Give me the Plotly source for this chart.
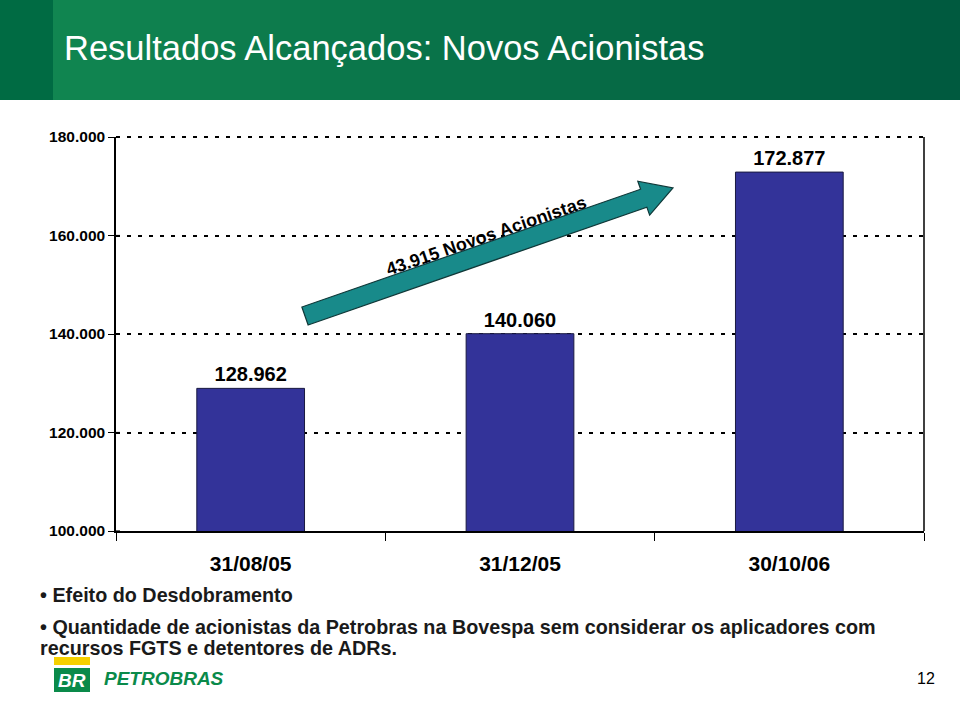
import numpy as np
import plotly.graph_objects as go

# ---- data ----
categories = ["31/08/05", "31/12/05", "30/10/06"]
acionistas = [128962, 140060, 172877]
y_ticks = [100000, 120000, 140000, 160000, 180000]
titulo = "Resultados Alcançados: Novos Acionistas"
seta_texto = "43.915 Novos Acionistas"
notas = ["• Efeito do Desdobramento",
         "• Quantidade de acionistas da Petrobras na Bovespa sem considerar os aplicadores com",
         "recursos FGTS e detentores de ADRs."]

W, H = 960, 706
L, R, T, B = 116, 36, 137, 175
PW, PH = W - L - R, H - T - B


def px(x):
    return (x - L) / PW


def py(y):
    return (H - B - y) / PH


FONT = "Arial, Liberation Sans, sans-serif"

fig = go.Figure()
fig.add_trace(go.Bar(
    x=categories, y=acionistas, width=0.4,
    marker=dict(color="#333399", line=dict(color="#1a1a40", width=1)),
    texttemplate="<b>%{y:,.0f}</b>", textposition="outside",
    textfont=dict(size=20, color="black", family=FONT),
    cliponaxis=False, hoverinfo="skip"))

shapes = []
# banner gradient
c0 = np.array([0x12, 0x88, 0x52])
c1 = np.array([0x00, 0x5a, 0x3f])
n = 48
for i in range(n):
    x0 = i * W / n
    x1 = (i + 1) * W / n + 1
    c = c0 + (c1 - c0) * (i / (n - 1))
    shapes.append(dict(type="rect", xref="paper", yref="paper",
                       x0=px(x0), x1=px(x1), y0=py(100), y1=py(0),
                       fillcolor="rgb(%d,%d,%d)" % tuple(c), line=dict(width=0), layer="below"))
shapes.append(dict(type="rect", xref="paper", yref="paper",
                   x0=px(0), x1=px(53), y0=py(100), y1=py(0),
                   fillcolor="#006b43", line=dict(width=0), layer="below"))
# top dashed gridline and right border
shapes.append(dict(type="line", xref="paper", yref="paper", x0=0, x1=1, y0=1, y1=1,
                   line=dict(color="black", width=2, dash="4px,7px")))
shapes.append(dict(type="line", xref="paper", yref="paper", x0=1, x1=1, y0=0, y1=1,
                   line=dict(color="black", width=1.5)))
# small inner part of the y ticks (ticks cross the axis)
for v in y_ticks:
    shapes.append(dict(type="line", xref="paper", yref="y", x0=0, x1=px(L + 4), y0=v, y1=v,
                       line=dict(color="black", width=1.2)))

# arrow
S = np.array([305.0, 316.0])
Tp = np.array([673.0, 188.0])
d = Tp - S
Ln = np.hypot(*d)
u = d / Ln
nv = np.array([-u[1], u[0]])
sw, hw, hl = 9.5, 18.0, 31.0
pts = [S + nv * sw, S + u * (Ln - hl) + nv * sw, S + u * (Ln - hl) + nv * hw, Tp,
       S + u * (Ln - hl) - nv * hw, S + u * (Ln - hl) - nv * sw, S - nv * sw]
path = "M " + " L ".join("%.5f,%.5f" % (px(p[0]), py(p[1])) for p in pts) + " Z"
shapes.append(dict(type="path", xref="paper", yref="paper", path=path,
                   fillcolor="#188a8a", line=dict(color="#103838", width=1.2)))

# logo
shapes.append(dict(type="rect", xref="paper", yref="paper", x0=px(54), x1=px(90),
                   y0=py(665), y1=py(657), fillcolor="#f5d000", line=dict(width=0)))
shapes.append(dict(type="rect", xref="paper", yref="paper", x0=px(54), x1=px(90),
                   y0=py(692), y1=py(668), fillcolor="#0a8a4a", line=dict(width=0)))

ann = []
ann.append(dict(text=titulo, x=px(62), y=py(48), xref="paper", yref="paper",
                xanchor="left", yanchor="middle", showarrow=False,
                font=dict(family=FONT, size=34.5, color="white")))
ann.append(dict(text="<b>%s</b>" % seta_texto, x=px(486), y=py(236), xref="paper", yref="paper",
                xanchor="center", yanchor="middle", textangle=-19, showarrow=False,
                font=dict(family=FONT, size=18, color="black")))
for txt, yy, xx in [(notas[0], 595, 38), (notas[1], 627, 38), (notas[2], 648, 38)]:
    ann.append(dict(text="<b>%s</b>" % txt, x=px(xx), y=py(yy), xref="paper", yref="paper",
                    xanchor="left", yanchor="middle", showarrow=False,
                    font=dict(family=FONT, size=19.75, color="#1a1a1a")))
ann.append(dict(text="<b><i>BR</i></b>", x=px(72), y=py(680), xref="paper", yref="paper",
                xanchor="center", yanchor="middle",
                showarrow=False, font=dict(family=FONT, size=19, color="white")))
ann.append(dict(text="<b><i>PETROBRAS</i></b>", x=px(102), y=py(678), xref="paper", yref="paper",
                xanchor="left", yanchor="middle", showarrow=False,
                font=dict(family=FONT, size=19, color="#0a8a4a")))
ann.append(dict(text="12", x=px(926), y=py(678), xref="paper", yref="paper",
                xanchor="center", yanchor="middle",
                showarrow=False, font=dict(family=FONT, size=16, color="black")))

fig.update_layout(
    width=W, height=H, margin=dict(l=L, r=R, t=T, b=B),
    paper_bgcolor="white", plot_bgcolor="white",
    separators=",.", showlegend=False,
    shapes=shapes, annotations=ann,
    font=dict(family=FONT, color="black"),
    xaxis=dict(showline=True, linecolor="black", linewidth=1.5, ticks="outside",
               tickson="boundaries", ticklen=8, tickcolor="black", showgrid=False,
               tickfont=dict(size=21, family=FONT, color="black"),
               ticklabelstandoff=13,
               tickvals=categories, ticktext=["<b>%s</b>" % c for c in categories]),
    yaxis=dict(range=[100000, 180000], tickvals=y_ticks,
               ticktext=["<b>%s</b>" % f"{v:,}".replace(",", ".") for v in y_ticks],
               showline=True, linecolor="black", linewidth=1.5, ticks="outside",
               ticklen=6, tickcolor="black", showgrid=True, gridcolor="black",
               griddash="4px,7px", gridwidth=2, zeroline=False,
               tickfont=dict(size=15.5, family=FONT, color="black")),
)

fig.write_html("out.html")
